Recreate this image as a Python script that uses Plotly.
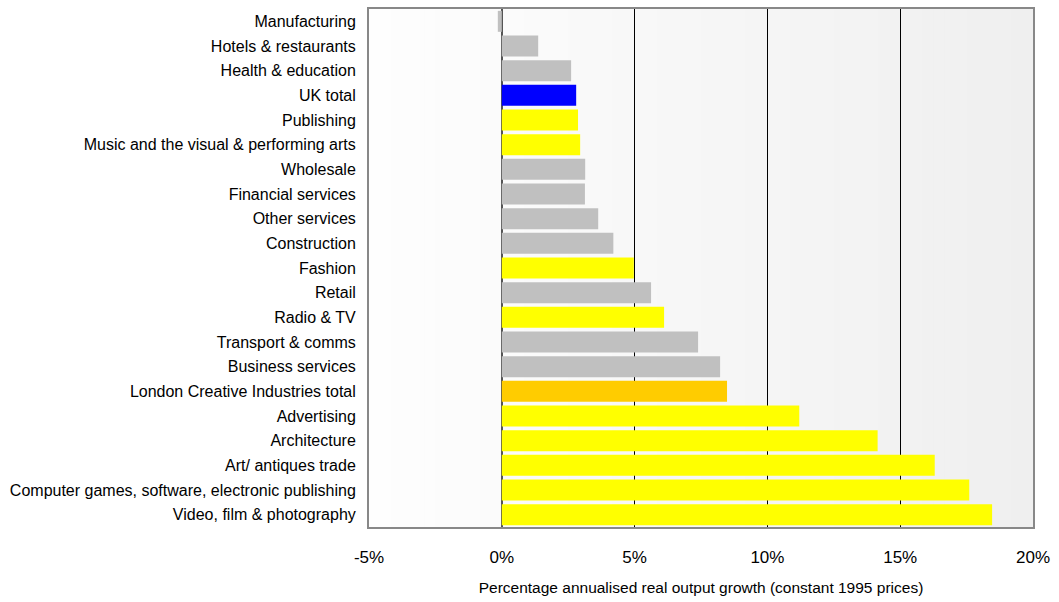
import plotly.graph_objects as go

# Sectors, top to bottom
sectors = [
    "Manufacturing",
    "Hotels & restaurants",
    "Health & education",
    "UK total",
    "Publishing",
    "Music and the visual & performing arts",
    "Wholesale",
    "Financial services",
    "Other services",
    "Construction",
    "Fashion",
    "Retail",
    "Radio & TV",
    "Transport & comms",
    "Business services",
    "London Creative Industries total",
    "Advertising",
    "Architecture",
    "Art/ antiques trade",
    "Computer games, software, electronic publishing",
    "Video, film & photography",
]

# Annualised real output growth, % (constant 1995 prices)
growth = [
    -0.15, 1.37, 2.61, 2.80, 2.87, 2.95, 3.14, 3.13, 3.63, 4.20, 4.97,
    5.62, 6.11, 7.39, 8.22, 8.48, 11.20, 14.15, 16.30, 17.60, 18.46,
]

# Sector group: other industries, UK benchmark, creative sub-sector, creative total
group = [
    "other", "other", "other", "uk", "creative", "creative", "other", "other",
    "other", "other", "creative", "other", "creative", "other", "other",
    "creative_total", "creative", "creative", "creative", "creative", "creative",
]

palette = {
    "other": "#c0c0c0",
    "uk": "#0000ff",
    "creative": "#ffff00",
    "creative_total": "#ffcc00",
}

tick_vals = [-5, 0, 5, 10, 15, 20]
tick_text = ["-5%", "0%", "5%", "10%", "15%", "20%"]

fig = go.Figure(
    go.Bar(
        x=growth,
        y=sectors,
        orientation="h",
        marker=dict(color=[palette[g] for g in group], line=dict(width=0)),
        hoverinfo="x+y",
    )
)

# Soft left-to-right shading of the plotting area
n_strips = 60
for i in range(n_strips):
    t = i / (n_strips - 1)
    v = round(254 - t * (254 - 239))
    fig.add_shape(
        type="rect",
        xref="paper", yref="paper",
        x0=i / n_strips, x1=(i + 1) / n_strips + 0.001,
        y0=0, y1=1,
        fillcolor=f"rgb({v},{v},{v})",
        line=dict(width=0),
        layer="below",
    )

fig.update_layout(
    width=1059,
    height=602,
    margin=dict(l=369, r=26, t=7, b=75),
    paper_bgcolor="white",
    plot_bgcolor="white",
    bargap=0.15,
    showlegend=False,
    font=dict(family="Liberation Sans, Arial, sans-serif", color="black"),
    xaxis=dict(
        range=[-5, 20],
        tickvals=tick_vals,
        ticktext=tick_text,
        tickfont=dict(size=17),
        ticks="",
        ticklabelstandoff=14,
        showgrid=True,
        gridcolor="black",
        gridwidth=1,
        zeroline=True,
        zerolinecolor="#555555",
        zerolinewidth=2,
        showline=True,
        linecolor="#888888",
        linewidth=2,
        mirror=True,
        title=dict(
            text="Percentage annualised real output growth (constant 1995 prices)",
            font=dict(size=15.5),
            standoff=16,
        ),
    ),
    yaxis=dict(
        autorange="reversed",
        tickfont=dict(size=16),
        ticks="",
        ticklabelstandoff=8,
        showgrid=False,
        showline=True,
        linecolor="#888888",
        linewidth=2,
        mirror=True,
    ),
)

fig.write_html("out.html")
